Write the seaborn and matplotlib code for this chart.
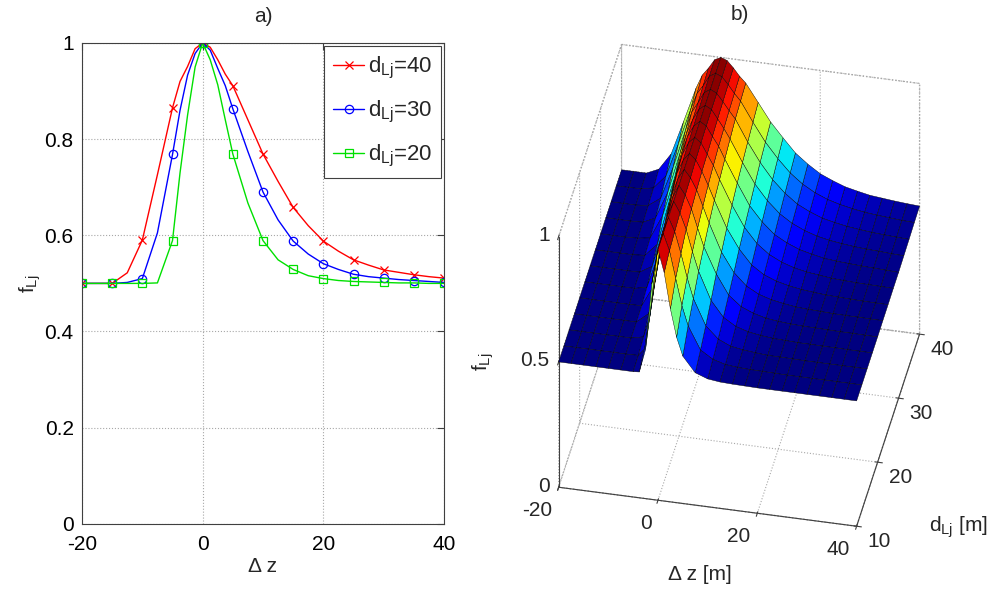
import numpy as np
import matplotlib
matplotlib.use("Agg")
import matplotlib.pyplot as plt
from mpl_toolkits.mplot3d import proj3d
import seaborn as sns

# --------------------------------------------------------
# Values
# --------------------------------------------------------
dz = [-20, -17.5, -15, -12.5, -10, -7.5, -5, -3.75, -2.5, -1.25, 0, 1.25, 2.5, 3.75,
      5, 7.5, 10, 12.5, 15, 17.5, 20, 22.5, 25, 27.5, 30, 32.5, 35, 37.5, 40]
d_lj = [10, 12.5, 15, 17.5, 20, 22.5, 25, 27.5, 30, 32.5, 35, 37.5, 40]

f_d10 = [0.5, 0.5, 0.5, 0.5, 0.5, 0.5, 0.5, 0.502, 0.595, 0.86, 1.0, 0.911, 0.77, 0.66,
         0.588, 0.528, 0.51, 0.504, 0.502, 0.501, 0.5, 0.5, 0.5, 0.5, 0.5, 0.5, 0.5, 0.5, 0.5]
f_d12_5 = [0.5, 0.5, 0.5, 0.5, 0.5, 0.5, 0.501, 0.53, 0.70, 0.915, 1.0, 0.935, 0.828, 0.723,
           0.645, 0.555, 0.524, 0.51, 0.505, 0.503, 0.502, 0.501, 0.5, 0.5, 0.5, 0.5, 0.5, 0.5, 0.5]
f_d15 = [0.5, 0.5, 0.5, 0.5, 0.5, 0.5, 0.511, 0.595, 0.77, 0.933, 1.0, 0.947, 0.863, 0.77,
         0.69, 0.588, 0.541, 0.519, 0.511, 0.506, 0.502, 0.502, 0.501, 0.5, 0.5, 0.5, 0.5, 0.5, 0.5]
f_d17_5 = [0.5, 0.5, 0.5, 0.5, 0.5, 0.5, 0.54, 0.67, 0.825, 0.94, 1.0, 0.958, 0.895, 0.81,
           0.735, 0.625, 0.564, 0.534, 0.519, 0.511, 0.506, 0.504, 0.502, 0.502, 0.501, 0.501,
           0.5, 0.5, 0.5]
f_d20 = [0.5, 0.5, 0.5, 0.5, 0.5, 0.501, 0.589, 0.73, 0.85, 0.95, 1.0, 0.965, 0.913, 0.84,
         0.769, 0.667, 0.589, 0.549, 0.529, 0.516, 0.51, 0.506, 0.504, 0.503, 0.502, 0.501,
         0.501, 0.5, 0.5]
f_d22_5 = [0.5, 0.5, 0.5, 0.5, 0.5, 0.511, 0.655, 0.77, 0.89, 0.96, 1.0, 0.97, 0.925, 0.863,
           0.80, 0.69, 0.615, 0.568, 0.541, 0.526, 0.517, 0.51, 0.507, 0.505, 0.503, 0.502,
           0.502, 0.501, 0.501]
f_d25 = [0.5, 0.5, 0.5, 0.5, 0.501, 0.53, 0.70, 0.81, 0.915, 0.97, 1.0, 0.978, 0.935, 0.883,
         0.827, 0.722, 0.645, 0.588, 0.555, 0.536, 0.524, 0.516, 0.511, 0.507, 0.505, 0.503,
         0.502, 0.501, 0.501]
f_d27_5 = [0.5, 0.5, 0.5, 0.5, 0.504, 0.555, 0.74, 0.84, 0.925, 0.975, 1.0, 0.982, 0.94, 0.898,
           0.845, 0.75, 0.668, 0.61, 0.572, 0.548, 0.532, 0.522, 0.516, 0.51, 0.507, 0.505,
           0.504, 0.503, 0.502]
f_d30 = [0.5, 0.5, 0.5, 0.502, 0.51, 0.605, 0.768, 0.86, 0.933, 0.978, 1.0, 0.985, 0.947, 0.911,
         0.863, 0.774, 0.69, 0.632, 0.588, 0.561, 0.541, 0.529, 0.519, 0.514, 0.511, 0.508,
         0.506, 0.504, 0.502]
f_d32_5 = [0.5, 0.5, 0.5, 0.502, 0.525, 0.635, 0.80, 0.88, 0.937, 0.981, 1.0, 0.987, 0.953, 0.918,
           0.879, 0.792, 0.713, 0.653, 0.607, 0.575, 0.553, 0.537, 0.527, 0.52, 0.515, 0.511,
           0.509, 0.506, 0.504]
f_d35 = [0.5, 0.5, 0.5, 0.505, 0.54, 0.67, 0.825, 0.90, 0.94, 0.984, 1.0, 0.988, 0.958, 0.925,
         0.895, 0.81, 0.735, 0.673, 0.625, 0.588, 0.564, 0.545, 0.534, 0.525, 0.519, 0.514,
         0.511, 0.508, 0.506]
f_d37_5 = [0.5, 0.5, 0.501, 0.511, 0.565, 0.70, 0.845, 0.91, 0.945, 0.986, 1.0, 0.99, 0.962, 0.93,
           0.903, 0.825, 0.752, 0.693, 0.642, 0.604, 0.576, 0.556, 0.542, 0.532, 0.524, 0.519,
           0.515, 0.511, 0.509]
f_d40 = [0.5, 0.5, 0.5, 0.522, 0.59, 0.726, 0.865, 0.92, 0.951, 0.988, 1.0, 0.991, 0.965, 0.935,
         0.911, 0.84, 0.769, 0.712, 0.658, 0.62, 0.588, 0.567, 0.549, 0.538, 0.528, 0.523,
         0.518, 0.514, 0.511]

xticks_a = [-20, 0, 20, 40]
yticks_a = [0, 0.2, 0.4, 0.6, 0.8, 1.0]
yticklabels_a = ["0", "0.2", "0.4", "0.6", "0.8", "1"]
xticks_b = [-20, 0, 20, 40]
yticks_b = [10, 20, 30, 40]
zticks_b = [0, 0.5, 1.0]
zticklabels_b = ["0", "0.5", "1"]

# markers only sit on the 5 m steps
mark_idx = [i for i, v in enumerate(dz) if v % 5 == 0]

# --------------------------------------------------------
# Style
# --------------------------------------------------------
sns.set_style("white")
plt.rcParams["font.family"] = ["Liberation Sans", "DejaVu Sans"]
plt.rcParams["mathtext.default"] = "regular"
plt.rcParams["axes.unicode_minus"] = False
plt.rcParams["font.size"] = 15
plt.rcParams["grid.linestyle"] = ":"
plt.rcParams["grid.color"] = "#a8a8a8"
plt.rcParams["grid.linewidth"] = 0.8
plt.rcParams["axes.edgecolor"] = "#404040"
plt.rcParams["xtick.color"] = "#404040"
plt.rcParams["ytick.color"] = "#404040"
plt.rcParams["xtick.labelcolor"] = "black"
plt.rcParams["ytick.labelcolor"] = "black"

fig = plt.figure(figsize=(10, 5.96), dpi=100)

# --------------------------------------------------------
# a) 2D curves
# --------------------------------------------------------
ax = fig.add_axes([0.082, 0.121, 0.362, 0.807])
curves = [(f_d40, "red", "x", "d$_{Lj}$=40"),
          (f_d30, "blue", "o", "d$_{Lj}$=30"),
          (f_d20, "#00e000", "s", "d$_{Lj}$=20")]
for vals, col, mk, lab in curves:
    sns.lineplot(x=dz, y=vals, ax=ax, color=col, marker=mk, markevery=mark_idx,
                 markersize=6, markeredgecolor=col, markerfacecolor="none",
                 markeredgewidth=0.9, linewidth=1.0, label=lab)

ax.set_xlim(-20, 40)
ax.set_ylim(0, 1)
ax.set_xticks(xticks_a)
ax.set_yticks(yticks_a)
ax.set_yticklabels(yticklabels_a)
ax.grid(True)
ax.tick_params(direction="in", top=True, right=True, length=5, labelsize=15)
ax.tick_params(axis="x", pad=8)
ax.tick_params(axis="y", pad=6)
for s in ax.spines.values():
    s.set_linewidth(0.8)
ax.set_xlabel("Δ z", fontsize=15, labelpad=2)
ax.set_ylabel("f$_{Lj}$", fontsize=15, labelpad=1)
ax.set_title("a)", fontsize=15, pad=15)
leg = ax.legend(loc="upper right", fancybox=False, edgecolor="#404040",
                framealpha=1, handlelength=1.4, handletextpad=0.15,
                labelspacing=0.8, borderaxespad=0.15, borderpad=0.4, fontsize=16)
leg.get_frame().set_linewidth(0.8)

# --------------------------------------------------------
# b) 3D surface
# --------------------------------------------------------
Z = np.array([f_d10, f_d12_5, f_d15, f_d17_5, f_d20, f_d22_5, f_d25,
              f_d27_5, f_d30, f_d32_5, f_d35, f_d37_5, f_d40])
X, Y = np.meshgrid(dz, d_lj)

ax3 = fig.add_axes([0.469, 0.068, 0.526, 0.8826], projection="3d")
ax3.set_proj_type("ortho")
ax3.view_init(elev=39.2, azim=-78.3)
ax3.set_box_aspect((1, 1.02, 1.063))
ax3.plot_surface(X, Y, Z, cmap="jet", vmin=0.5, vmax=1.0, edgecolor="k",
                 linewidth=0.3, shade=False, rstride=1, cstride=1,
                 antialiased=True)
ax3.set_xlim(xticks_b[0], xticks_b[-1])
ax3.set_ylim(yticks_b[0], yticks_b[-1])
ax3.set_zlim(zticks_b[0], zticks_b[-1])
ax3.set_xticks(xticks_b)
ax3.set_yticks(yticks_b)
ax3.set_zticks(zticks_b)
ax3.zaxis.set_ticks_position("lower")
for axis in (ax3.xaxis, ax3.yaxis, ax3.zaxis):
    axis.set_tick_params(label1On=False, label2On=False)
    axis.set_pane_color((1, 1, 1, 1))
    axis.pane.set_edgecolor("#a8a8a8")
    axis.pane.set_linestyle(":")
    axis.line.set_color("#404040")
    axis.line.set_linewidth(0.8)
ax3.patch.set_alpha(0)

# tick labels set MATLAB-like next to the solid axis lines:
# project the 3D anchor through the axes' own projection, then place 2D text
M = ax3.get_proj()


def label3d(x, y, z, s, **kw):
    px, py, _ = proj3d.proj_transform(x, y, z, M)
    ax3.text2D(px, py, s, transform=ax3.transData, fontsize=15, **kw)


x0, x1 = xticks_b[0], xticks_b[-1]
y0 = yticks_b[0]
z0 = zticks_b[0]
for t in xticks_b:
    label3d(t + 0.2, y0 - 3.6, z0, str(t), ha="right", va="center")
for t in yticks_b:
    label3d(x1 + 4.6, t, z0 - 0.05, str(t), ha="center", va="center")
for t, lab in zip(zticks_b, zticklabels_b):
    label3d(x0 - 1.8, y0, t, lab, ha="right", va="center")

fig.text(0.700, 1 - 575 / 596, "Δ z [m]", ha="center", va="center", fontsize=15)
fig.text(0.958, 1 - 527 / 596, "d$_{Lj}$ [m]", ha="center", va="center", fontsize=15)
fig.text(0.483, 1 - 362 / 596, "f$_{Lj}$", ha="center", va="center", fontsize=15,
         rotation=90)
fig.text(0.740, 1 - 15 / 596, "b)", ha="center", va="center", fontsize=15)

fig.savefig("out.png", dpi=100)
